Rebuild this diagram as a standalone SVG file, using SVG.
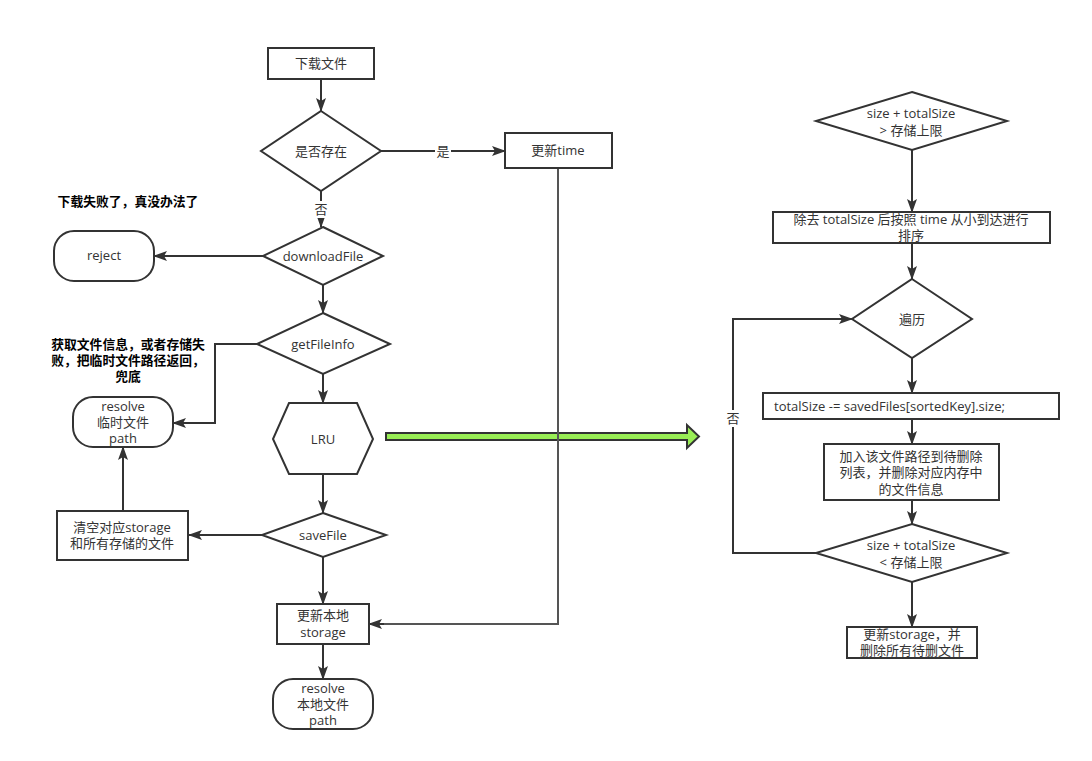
<svg xmlns="http://www.w3.org/2000/svg" width="1092" height="761" viewBox="0 0 1092 761">
<defs>
<marker id="arr" markerUnits="userSpaceOnUse" markerWidth="14" markerHeight="10" refX="13" refY="5" orient="auto">
<path d="M0,0 L14,5 L0,10 L3,5 z" fill="#333"/>
</marker>
</defs>
<style>
.s{fill:#fff;stroke:#333;stroke-width:2}
.t{font-family:"Open Sans","Noto Sans CJK SC",sans-serif;font-size:13px;fill:#333;text-anchor:middle}
.b{font-family:"Open Sans","Noto Sans CJK SC",sans-serif;font-size:12.8px;font-weight:bold;fill:#000;text-anchor:middle}
.c{fill:none;stroke:#333;stroke-width:2;marker-end:url(#arr)}
.g{fill:none;stroke:#555;stroke-width:2}
.lb{fill:#fff}
</style>
<rect width="1092" height="761" fill="#fff"/>

<g id="green-arrow">
<path d="M386,433 L687,433 L687,425 L699,436.5 L687,448 L687,440 L386,440 Z" fill="#99ee55" stroke="#333" stroke-width="2" stroke-linejoin="miter"/>
</g>

<g id="connectors">
<path class="c" d="M321,79 L321,111"/>
<path class="c" d="M381,151 L505,151"/>
<rect class="lb" x="435" y="143" width="16" height="16"/>
<text class="t" x="443" y="156">是</text>
<path class="c" d="M321,191 L321,227"/>
<rect class="lb" x="313" y="201" width="16" height="17"/>
<text class="t" x="321" y="214">否</text>
<path class="c" d="M263,256 L154,256"/>
<path class="c" d="M323,285 L323,313"/>
<path class="c" d="M257,344 L215,344 L215,423 L173,423"/>
<path class="c" d="M323,374 L323,403"/>
<path class="c" d="M323,474 L323,513"/>
<path class="c" d="M262,535 L189,535"/>
<path class="c" d="M123,511 L123,447"/>
<path class="c" d="M323,557 L323,604"/>
<path class="c" d="M323,644 L323,679"/>
<path class="g" d="M558,168 L558,624 L383,624"/>
<path class="c" d="M384,624 L369,624"/>
<path class="c" d="M912,150 L912,212"/>
<path class="c" d="M912,243 L912,279"/>
<path class="c" d="M912,358 L912,393"/>
<path class="c" d="M912,419 L912,444"/>
<path class="c" d="M912,500 L912,524"/>
<path class="c" d="M816,553 L733,553 L733,319 L852,319"/>
<rect class="lb" x="726" y="410" width="15" height="17"/>
<text class="t" x="733" y="423">否</text>
<path class="c" d="M912,582 L912,627"/>
</g>

<g id="n-download">
<rect class="s" x="268" y="48" width="106" height="31"/>
<text class="t" x="321" y="68">下载文件</text>
</g>
<g id="n-exists">
<path class="s" d="M321,111 L381,151 L321,191 L261,151 Z"/>
<text class="t" x="321" y="156">是否存在</text>
</g>
<g id="n-updatetime">
<rect class="s" x="505" y="133" width="107" height="35"/>
<text class="t" x="558" y="155">更新time</text>
</g>
<g id="n-downloadfile">
<path class="s" d="M323,227 L383,256 L323,285 L263,256 Z"/>
<text class="t" x="323" y="261">downloadFile</text>
</g>
<g id="n-reject">
<rect class="s" x="54" y="231" width="100" height="50" rx="20" ry="20"/>
<text class="t" x="104" y="260">reject</text>
</g>
<g id="note-fail">
<text class="b" x="128" y="206">下载失败了，真没办法了</text>
</g>
<g id="n-getfileinfo">
<path class="s" d="M323,313 L390,344 L323,374 L257,344 Z"/>
<text class="t" x="323" y="349">getFileInfo</text>
</g>
<g id="note-fallback">
<text class="b"><tspan x="128" y="349">获取文件信息，或者存储失</tspan><tspan x="128" y="365">败，把临时文件路径返回，</tspan><tspan x="128" y="381">兜底</tspan></text>
</g>
<g id="n-resolve-tmp">
<rect class="s" x="73" y="397" width="100" height="50" rx="20" ry="20"/>
<text class="t"><tspan x="123" y="411">resolve</tspan><tspan x="123" y="427">临时文件</tspan><tspan x="123" y="443">path</tspan></text>
</g>
<g id="n-lru">
<path class="s" d="M289,403 L357,403 L373,439 L357,474 L289,474 L273,439 Z"/>
<text class="t" x="323" y="444">LRU</text>
</g>
<g id="n-savefile">
<path class="s" d="M323,513 L386,535 L323,557 L262,535 Z"/>
<text class="t" x="323" y="540">saveFile</text>
</g>
<g id="n-clear">
<rect class="s" x="57" y="511" width="131" height="49"/>
<text class="t"><tspan x="122" y="532">清空对应storage</tspan><tspan x="122" y="548">和所有存储的文件</tspan></text>
</g>
<g id="n-updatelocal">
<rect class="s" x="277" y="604" width="92" height="40"/>
<text class="t"><tspan x="323" y="620">更新本地</tspan><tspan x="323" y="637">storage</tspan></text>
</g>
<g id="n-resolve-local">
<rect class="s" x="273" y="679" width="100" height="50" rx="20" ry="20"/>
<text class="t"><tspan x="323" y="693">resolve</tspan><tspan x="323" y="709">本地文件</tspan><tspan x="323" y="725">path</tspan></text>
</g>

<g id="n-over">
<path class="s" d="M912,92 L1007,121 L912,150 L816,121 Z"/>
<text class="t"><tspan x="911" y="118">size + totalSize</tspan><tspan x="911" y="135">&gt; 存储上限</tspan></text>
</g>
<g id="n-sort">
<rect class="s" x="773" y="212" width="277" height="31"/>
<text class="t"><tspan x="911" y="224">除去 totalSize 后按照 time 从小到达进行</tspan><tspan x="911" y="240">排序</tspan></text>
</g>
<g id="n-traverse">
<path class="s" d="M912,279 L972,319 L912,358 L852,319 Z"/>
<text class="t" x="912" y="324">遍历</text>
</g>
<g id="n-subtract">
<rect class="s" x="763" y="393" width="296" height="26"/>
<text class="t" x="774" y="411" style="text-anchor:start">totalSize -= savedFiles[sortedKey].size;</text>
</g>
<g id="n-addpath">
<rect class="s" x="824" y="444" width="175" height="56"/>
<text class="t"><tspan x="911" y="461">加入该文件路径到待删除</tspan><tspan x="911" y="477">列表，并删除对应内存中</tspan><tspan x="911" y="494">的文件信息</tspan></text>
</g>
<g id="n-under">
<path class="s" d="M912,524 L1007,553 L912,582 L816,553 Z"/>
<text class="t"><tspan x="911" y="550">size + totalSize</tspan><tspan x="911" y="567">&lt; 存储上限</tspan></text>
</g>
<g id="n-final">
<rect class="s" x="847" y="627" width="130" height="31"/>
<text class="t"><tspan x="912" y="639">更新storage，并</tspan><tspan x="912" y="655">删除所有待删文件</tspan></text>
</g>
</svg>
